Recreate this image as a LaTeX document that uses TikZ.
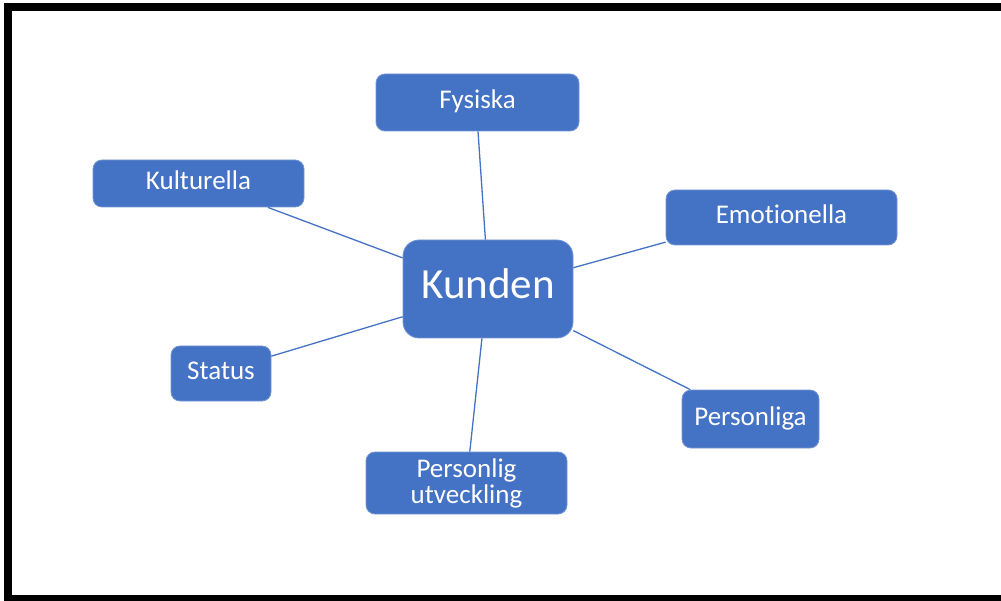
\documentclass[tikz,border=0pt]{standalone}
\usepackage{fontspec}
\setmainfont[Ligatures=NoCommon]{Carlito}
\usetikzlibrary{positioning}
\definecolor{officeblue}{HTML}{4472C4}
\tikzstyle{box} = [rectangle, rounded corners=9pt, fill=officeblue, draw=officeblue!75!white, line width=0.8pt, text=white, inner sep=0pt, align=center, font=\fontsize{27}{26}\selectfont]
\tikzstyle{single} = [box, text height=19pt, text depth=6.8pt]
\tikzstyle{link} = [officeblue, line width=1.3pt]

\begin{document}
\begin{tikzpicture}[x=1pt,y=-1pt]
\useasboundingbox (0,0) rectangle (1001,601);
% frame
\fill[black] (4,3) rectangle (1001,11);
\fill[black] (4,3) rectangle (12,601);
\fill[black] (4,595) rectangle (1001,601);

\node[box, rounded corners=16pt, minimum width=170pt, minimum height=98pt, font=\fontsize{43}{46}\selectfont, text height=30pt, text depth=10.5pt] (kunden) at (488,289) {Kunden};

\node[single, minimum width=203pt, minimum height=57pt] (fysiska) at (477.5,102.5) {Fysiska};
\node[single, minimum width=231pt, minimum height=55pt] (emotionella) at (781.5,217.5) {Emotionella};
\node[single, minimum width=211pt, minimum height=47pt] (kulturella) at (198.5,183.5) {Kulturella};
\node[single, minimum width=100pt, minimum height=55pt] (status) at (221,373.5) {Status};
\node[box, minimum width=201pt, minimum height=62pt] (utveckling) at (466.5,483) {Personlig\\utveckling};
\node[single, minimum width=137pt, minimum height=58pt] (personliga) at (750.5,419) {Personliga};

\draw[link] (kunden.93) -- (fysiska.-89);
\draw[link] (kunden.14.5) -- (emotionella.-168);
\draw[link] (kunden.160) -- (kulturella.-19);
\draw[link] (kunden.-162) -- (status.19);
\draw[link] (kunden.-97) -- (utveckling.84);
\draw[link] (kunden.-26) -- (personliga.154);
\end{tikzpicture}
\end{document}
